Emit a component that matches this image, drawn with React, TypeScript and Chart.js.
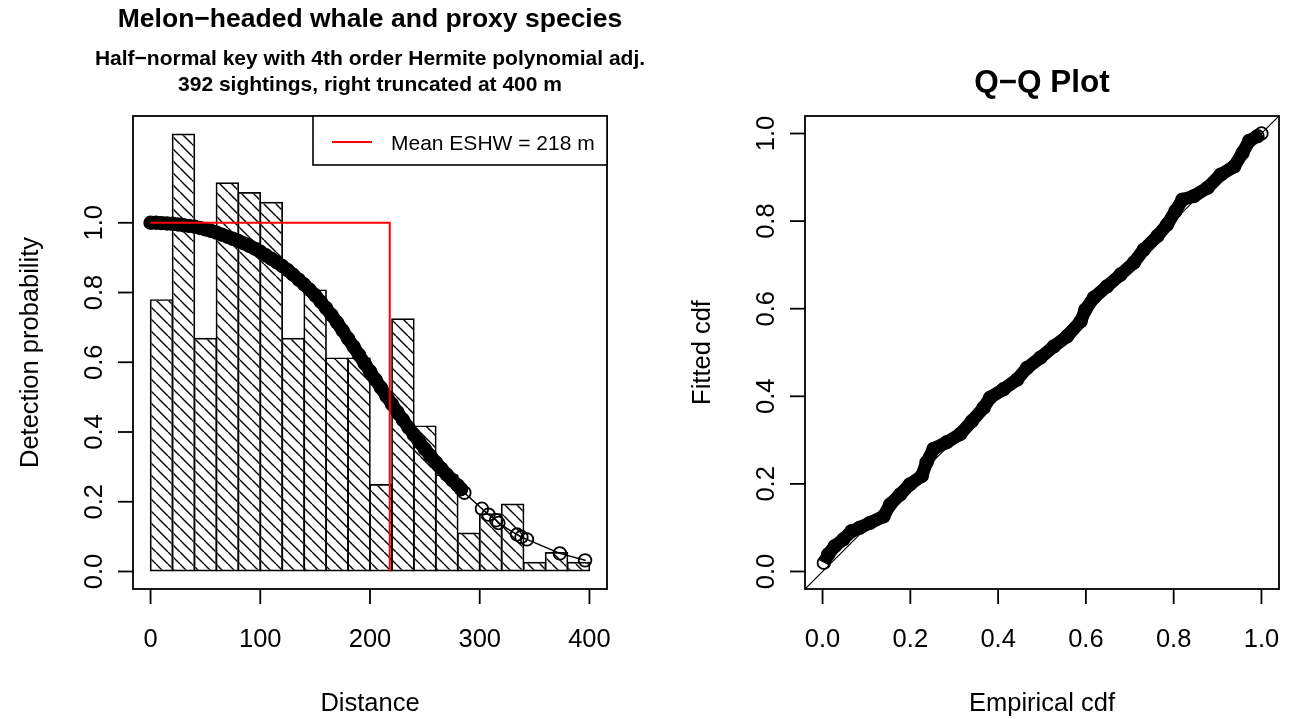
import React, { useEffect, useRef } from "react";
import { Chart, registerables } from "chart.js";

Chart.register(...registerables);

const FONT = '"Liberation Sans", Arial, Helvetica, sans-serif';

// Histogram of perpendicular distances: 20 m bins, heights scaled to g(x)
const binStart = [0, 20, 40, 60, 80, 100, 120, 140, 160, 180, 200, 220, 240, 260, 280, 300, 320, 340, 360, 380];
const binHeight = [0.781, 1.256, 0.670, 1.116, 1.088, 1.060, 0.670, 0.809, 0.614, 0.614, 0.251, 0.726, 0.419, 0.279, 0.112, 0.167, 0.195, 0.028, 0.056, 0.028];
const binWidth = 20;

// Fitted detection probability at the sighting distances (m)
const sightingDistance = [
  0, 5, 10, 15, 20, 25, 30, 35, 40, 45, 50, 55, 60, 65, 70, 75, 80, 85, 90, 95,
  100, 105, 110, 115, 120, 125, 130, 135, 140, 145, 150, 155, 160, 165, 170, 175, 180, 185, 190, 195,
  200, 205, 210, 215, 220, 225, 230, 235, 240, 245, 250, 255, 260, 265, 270, 275, 280,
  283, 286, 302, 308, 315, 317, 334, 338, 343, 373, 396,
];
const detectionProb = [
  1.000, 1.000, 0.999, 0.998, 0.997, 0.995, 0.993, 0.991, 0.989, 0.985, 0.981, 0.977, 0.972, 0.966, 0.960, 0.954, 0.948, 0.941, 0.934, 0.926,
  0.917, 0.907, 0.897, 0.887, 0.876, 0.864, 0.851, 0.837, 0.823, 0.808, 0.792, 0.774, 0.755, 0.735, 0.714, 0.691, 0.668, 0.645, 0.621, 0.597,
  0.574, 0.550, 0.527, 0.503, 0.480, 0.457, 0.435, 0.413, 0.392, 0.371, 0.351, 0.332, 0.313, 0.295, 0.278, 0.262, 0.247,
  0.236, 0.226, 0.180, 0.163, 0.147, 0.139, 0.106, 0.099, 0.092, 0.052, 0.032,
];
// sightings closer than this form a continuous band of symbols
const denseUntil = 283;

// Mean effective strip half-width (m)
const meanEshw = 218;

const distanceTicks = [0, 100, 200, 300, 400];
const distanceTickLabels = ["0", "100", "200", "300", "400"];
const probTicks = [0, 0.2, 0.4, 0.6, 0.8, 1.0];
const probTickLabels = ["0.0", "0.2", "0.4", "0.6", "0.8", "1.0"];

// Q-Q plot: empirical vs fitted cdf
const qqEmpirical = [
  0.003, 0.013, 0.028, 0.047, 0.066, 0.085, 0.108, 0.139, 0.154, 0.177, 0.199, 0.226, 0.237, 0.253, 0.283,
  0.314, 0.340, 0.367, 0.382, 0.412, 0.443, 0.466, 0.496, 0.527, 0.557, 0.588, 0.599, 0.618, 0.648, 0.679,
  0.709, 0.732, 0.763, 0.785, 0.804, 0.820, 0.846, 0.877, 0.907, 0.938, 0.957, 0.972, 0.991, 1.000,
];
const qqFitted = [
  0.020, 0.039, 0.058, 0.073, 0.092, 0.100, 0.111, 0.126, 0.153, 0.176, 0.199, 0.218, 0.249, 0.280, 0.295,
  0.314, 0.343, 0.374, 0.397, 0.416, 0.438, 0.465, 0.488, 0.514, 0.537, 0.571, 0.598, 0.625, 0.651, 0.678,
  0.705, 0.735, 0.766, 0.792, 0.823, 0.849, 0.857, 0.876, 0.906, 0.925, 0.956, 0.983, 0.994, 1.000,
];
const cdfTicks = [0, 0.2, 0.4, 0.6, 0.8, 1.0];
const cdfTickLabels = ["0.0", "0.2", "0.4", "0.6", "0.8", "1.0"];

const mainTitle = "Melon\u2212headed whale and proxy species";
const subTitleLines = [
  "Half\u2212normal key with 4th order Hermite polynomial adj.",
  "392 sightings, right truncated at 400 m",
];
const legendLabel = `Mean ESHW = ${meanEshw} m`;
const qqTitle = "Q\u2212Q Plot";

type PanelSpec = {
  id: string;
  xTicks: number[];
  xLabels: string[];
  yTicks: number[];
  yLabels: string[];
  xTitle: string;
  yTitle: string;
  titles: { text: string; y: number; size: number }[];
  legend?: { text: string; color: string };
};

// Base-graphics style frame: box, outward ticks, rotated y labels, titles
function panelPlugin(spec: PanelSpec) {
  return {
    id: spec.id,
    afterDraw(chart: any) {
      const ctx: CanvasRenderingContext2D = chart.ctx;
      const a = chart.chartArea;
      const xs = chart.scales.x;
      const ys = chart.scales.y;
      const tick = 15;
      ctx.save();
      ctx.strokeStyle = "#000";
      ctx.fillStyle = "#000";
      ctx.lineWidth = 1.8;
      ctx.strokeRect(a.left, a.top, a.right - a.left, a.bottom - a.top);

      ctx.font = `25.5px ${FONT}`;
      ctx.textAlign = "center";
      ctx.textBaseline = "alphabetic";
      spec.xTicks.forEach((v, i) => {
        const px = xs.getPixelForValue(v);
        ctx.beginPath();
        ctx.moveTo(px, a.bottom);
        ctx.lineTo(px, a.bottom + tick);
        ctx.stroke();
        ctx.fillText(spec.xLabels[i], px, a.bottom + 58);
      });
      spec.yTicks.forEach((v, i) => {
        const py = ys.getPixelForValue(v);
        ctx.beginPath();
        ctx.moveTo(a.left, py);
        ctx.lineTo(a.left - tick, py);
        ctx.stroke();
        ctx.save();
        ctx.translate(a.left - 31, py);
        ctx.rotate(-Math.PI / 2);
        ctx.fillText(spec.yLabels[i], 0, 0);
        ctx.restore();
      });

      const cx = (a.left + a.right) / 2;
      const cy = (a.top + a.bottom) / 2;
      ctx.fillText(spec.xTitle, cx, a.bottom + 122);
      ctx.save();
      ctx.translate(a.left - 95, cy);
      ctx.rotate(-Math.PI / 2);
      ctx.fillText(spec.yTitle, 0, 0);
      ctx.restore();

      for (const t of spec.titles) {
        ctx.font = `bold ${t.size}px ${FONT}`;
        ctx.fillText(t.text, cx, t.y);
      }

      if (spec.legend) {
        const lw = 294;
        const lh = 49;
        const lx = a.right - lw;
        const ly = a.top;
        ctx.fillStyle = "#fff";
        ctx.fillRect(lx, ly, lw, lh);
        ctx.lineWidth = 1.6;
        ctx.strokeStyle = "#000";
        ctx.strokeRect(lx, ly, lw, lh);
        ctx.strokeStyle = spec.legend.color;
        ctx.lineWidth = 2;
        ctx.beginPath();
        ctx.moveTo(lx + 19, ly + 26);
        ctx.lineTo(lx + 59, ly + 26);
        ctx.stroke();
        ctx.fillStyle = "#000";
        ctx.font = `21px ${FONT}`;
        ctx.textAlign = "left";
        ctx.fillText(spec.legend.text, lx + 78, ly + 34);
      }
      ctx.restore();
    },
  };
}

// Diagonal "\\\\" shading for the histogram bars
function hatchPattern(target: CanvasRenderingContext2D): CanvasPattern | string {
  const s = 12;
  const c = document.createElement("canvas");
  c.width = s;
  c.height = s;
  const g = c.getContext("2d");
  if (!g) return "rgba(0,0,0,0)";
  g.strokeStyle = "#000";
  g.lineWidth = 1.4;
  g.beginPath();
  for (let k = -1; k <= 1; k++) {
    g.moveTo(k * s, 0);
    g.lineTo(k * s + s, s);
  }
  g.stroke();
  return target.createPattern(c, "repeat") || "rgba(0,0,0,0)";
}

export default function App() {
  const leftRef = useRef<HTMLCanvasElement>(null);
  const rightRef = useRef<HTMLCanvasElement>(null);

  useEffect(() => {
    const leftCanvas = leftRef.current;
    const rightCanvas = rightRef.current;
    if (!leftCanvas || !rightCanvas) return;
    const lctx = leftCanvas.getContext("2d");
    if (!lctx) return;
    const hatch = hatchPattern(lctx);

    const baseOptions = {
      responsive: false,
      animation: false as const,
      devicePixelRatio: 1,
      events: [] as any[],
      plugins: { legend: { display: false }, tooltip: { enabled: false }, title: { display: false } },
    };

    const symbol = {
      pointStyle: "circle",
      pointRadius: 6.3,
      pointBorderWidth: 1.8,
      pointBackgroundColor: "rgba(0,0,0,0)",
      pointBorderColor: "#000",
    };

    const detection = new Chart(leftCanvas, {
      type: "bar",
      data: {
        datasets: [
          {
            type: "line",
            label: "Mean ESHW",
            data: [
              { x: 0, y: 1 },
              { x: meanEshw, y: 1 },
              { x: meanEshw, y: 0 },
            ],
            borderColor: "#ff0000",
            borderWidth: 2,
            pointRadius: 0,
            tension: 0,
            fill: false,
            order: 0,
          } as any,
          {
            type: "line",
            label: "Detection function",
            data: sightingDistance.map((d, i) => ({ x: d, y: detectionProb[i] })),
            borderColor: "#000",
            borderWidth: 1.5,
            borderJoinStyle: "round",
            borderCapStyle: "round",
            segment: {
              borderWidth: (c: any) => (c.p1.parsed.x <= denseUntil ? 13 : 1.5),
            },
            ...symbol,
            tension: 0,
            fill: false,
            order: 1,
          } as any,
          {
            type: "bar",
            label: "Distances",
            data: binStart.map((s, i) => ({ x: s + binWidth / 2, y: binHeight[i] })),
            backgroundColor: hatch,
            borderColor: "#000",
            borderWidth: 1.7,
            borderSkipped: false,
            barPercentage: 1.07,
            categoryPercentage: 1,
            order: 2,
          } as any,
        ],
      },
      options: {
        ...baseOptions,
        layout: { padding: { left: 133, right: 38, top: 116, bottom: 130 } },
        scales: {
          x: { type: "linear", min: -16, max: 416, offset: false, display: false },
          y: { type: "linear", min: -0.0502, max: 1.3062, display: false },
        },
      } as any,
      plugins: [
        panelPlugin({
          id: "detectionFrame",
          xTicks: distanceTicks,
          xLabels: distanceTickLabels,
          yTicks: probTicks,
          yLabels: probTickLabels,
          xTitle: "Distance",
          yTitle: "Detection probability",
          titles: [
            { text: mainTitle, y: 27, size: 26.5 },
            { text: subTitleLines[0], y: 65, size: 21 },
            { text: subTitleLines[1], y: 91, size: 21 },
          ],
          legend: { text: legendLabel, color: "#ff0000" },
        }),
      ],
    });

    const qq = new Chart(rightCanvas, {
      type: "scatter",
      data: {
        datasets: [
          {
            label: "Q-Q",
            data: qqEmpirical.map((e, i) => ({ x: e, y: qqFitted[i] })),
            showLine: true,
            borderColor: "#000",
            borderWidth: 13,
            borderJoinStyle: "round",
            borderCapStyle: "butt",
            ...symbol,
            tension: 0,
            order: 0,
          } as any,
          {
            label: "1:1",
            data: [
              { x: -0.04, y: -0.04 },
              { x: 1.04, y: 1.04 },
            ],
            showLine: true,
            borderColor: "#000",
            borderWidth: 1.2,
            pointRadius: 0,
            order: 1,
          } as any,
        ],
      },
      options: {
        ...baseOptions,
        layout: { padding: { left: 160, right: 11, top: 116, bottom: 130 } },
        scales: {
          x: { type: "linear", min: -0.04, max: 1.04, display: false },
          y: { type: "linear", min: -0.04, max: 1.04, display: false },
        },
      } as any,
      plugins: [
        panelPlugin({
          id: "qqFrame",
          xTicks: cdfTicks,
          xLabels: cdfTickLabels,
          yTicks: cdfTicks,
          yLabels: cdfTickLabels,
          xTitle: "Empirical cdf",
          yTitle: "Fitted cdf",
          titles: [{ text: qqTitle, y: 92, size: 31.5 }],
        }),
      ],
    });

    return () => {
      detection.destroy();
      qq.destroy();
    };
  }, []);

  return (
    <div
      style={{
        position: "absolute",
        left: 0,
        top: 0,
        width: 1290,
        height: 719,
        background: "#fff",
        overflow: "hidden",
      }}
    >
      <canvas
        ref={leftRef}
        width={645}
        height={719}
        style={{ position: "absolute", left: 0, top: 0, width: 645, height: 719 }}
      />
      <canvas
        ref={rightRef}
        width={645}
        height={719}
        style={{ position: "absolute", left: 645, top: 0, width: 645, height: 719 }}
      />
    </div>
  );
}
